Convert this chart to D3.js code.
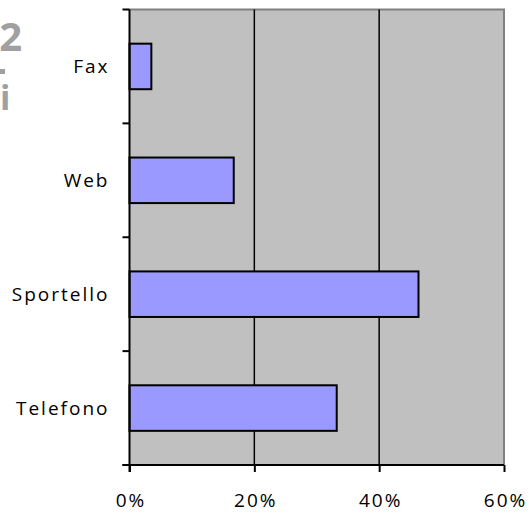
<!DOCTYPE html>
<html>
<head>
<meta charset="utf-8">
<script src="https://cdn.jsdelivr.net/npm/d3@7"></script>
<style>
  html, body { margin: 0; padding: 0; background: #fff; }
  svg { display: block; }
  text { font-family: "Open Sans", "Liberation Sans", sans-serif; }
</style>
</head>
<body>
<div id="chart"></div>
<script>
// Channel shares (fraction of total)
const categories = ["Fax", "Web", "Sportello", "Telefono"];
const values = [0.035, 0.167, 0.463, 0.332];
const tickValues = [0, 0.2, 0.4, 0.6];
const tickLabels = ["0%", "20%", "40%", "60%"];

const W = 531, H = 514;
const plot = { left: 129.5, right: 504, top: 9.5, bottom: 465 };
const fontSize = 19, spacing = 2;

const svg = d3.select("#chart").append("svg")
  .attr("width", W).attr("height", H);

// Fragments of slide heading text at the left edge
svg.append("text").attr("x", 22).attr("y", 51).attr("text-anchor", "end")
  .attr("font-size", 40).attr("font-weight", "bold").attr("fill", "#a0a0a0").text("2");
svg.append("rect").attr("x", 0).attr("y", 69).attr("width", 5).attr("height", 5).attr("fill", "#a0a0a0");
svg.append("text").attr("x", 0).attr("y", 110).attr("text-anchor", "start")
  .attr("font-size", 34).attr("font-weight", "bold").attr("fill", "#a0a0a0").text("i");

const x = d3.scaleLinear().domain([0, 0.6]).range([plot.left, plot.right]);
const y = d3.scaleBand().domain(categories).range([plot.top, plot.bottom]).paddingInner(0.6).paddingOuter(0.3);

// Plot background
svg.append("rect")
  .attr("x", plot.left).attr("y", plot.top)
  .attr("width", plot.right - plot.left).attr("height", plot.bottom - plot.top)
  .attr("fill", "#c0c0c0");

// Top and right frame
svg.append("path")
  .attr("d", `M${plot.left},${plot.top}H${plot.right}V${plot.bottom}`)
  .attr("fill", "none").attr("stroke", "#808080").attr("stroke-width", 2);

// Vertical gridlines
svg.append("g").selectAll("line")
  .data(tickValues.filter(v => v > 0 && v < 0.6))
  .join("line")
  .attr("x1", d => x(d)).attr("x2", d => x(d))
  .attr("y1", plot.top).attr("y2", plot.bottom)
  .attr("stroke", "#000").attr("stroke-width", 1.5);

// Bars
svg.append("g").selectAll("rect")
  .data(categories.map((c, i) => ({ c, v: values[i] })))
  .join("rect")
  .attr("x", x(0))
  .attr("y", d => y(d.c))
  .attr("width", d => x(d.v) - x(0))
  .attr("height", y.bandwidth())
  .attr("fill", "#9999ff")
  .attr("stroke", "#000").attr("stroke-width", 2);

// X axis
const xAxis = d3.axisBottom(x)
  .tickValues(tickValues)
  .tickFormat((d, i) => tickLabels[i])
  .tickSize(7).tickSizeOuter(0).tickPadding(22);
const gx = svg.append("g").attr("transform", `translate(0,${plot.bottom})`).call(xAxis);
gx.select(".domain").attr("stroke", "#000").attr("stroke-width", 2)
  .attr("d", `M${plot.left - 7},0H${plot.right}`);
gx.selectAll(".tick line").attr("stroke", "#000").attr("stroke-width", 2);
gx.selectAll(".tick text").attr("font-size", fontSize).attr("fill", "#000")
  .attr("letter-spacing", spacing).attr("dx", spacing / 2)
  .attr("font-family", "'Open Sans', 'Liberation Sans', sans-serif");

// Y axis with boundary ticks between categories
const gy = svg.append("g").attr("transform", `translate(${plot.left},0)`);
gy.append("line").attr("x1", 0).attr("x2", 0)
  .attr("y1", plot.top).attr("y2", plot.bottom + 7)
  .attr("stroke", "#000").attr("stroke-width", 2);
const bounds = d3.range(categories.length + 1).map(i => plot.top + (plot.bottom - plot.top) * i / categories.length);
gy.selectAll(".btick").data(bounds).join("line")
  .attr("x1", -7).attr("x2", 0).attr("y1", d => d).attr("y2", d => d)
  .attr("stroke", "#000").attr("stroke-width", 2);
gy.selectAll(".lbl").data(categories).join("text")
  .attr("x", -22 + spacing)
  .attr("y", d => y(d) + y.bandwidth() / 2)
  .attr("dy", "0.35em")
  .attr("text-anchor", "end")
  .attr("font-size", fontSize)
  .attr("letter-spacing", spacing)
  .attr("fill", "#000")
  .text(d => d);
</script>
</body>
</html>
